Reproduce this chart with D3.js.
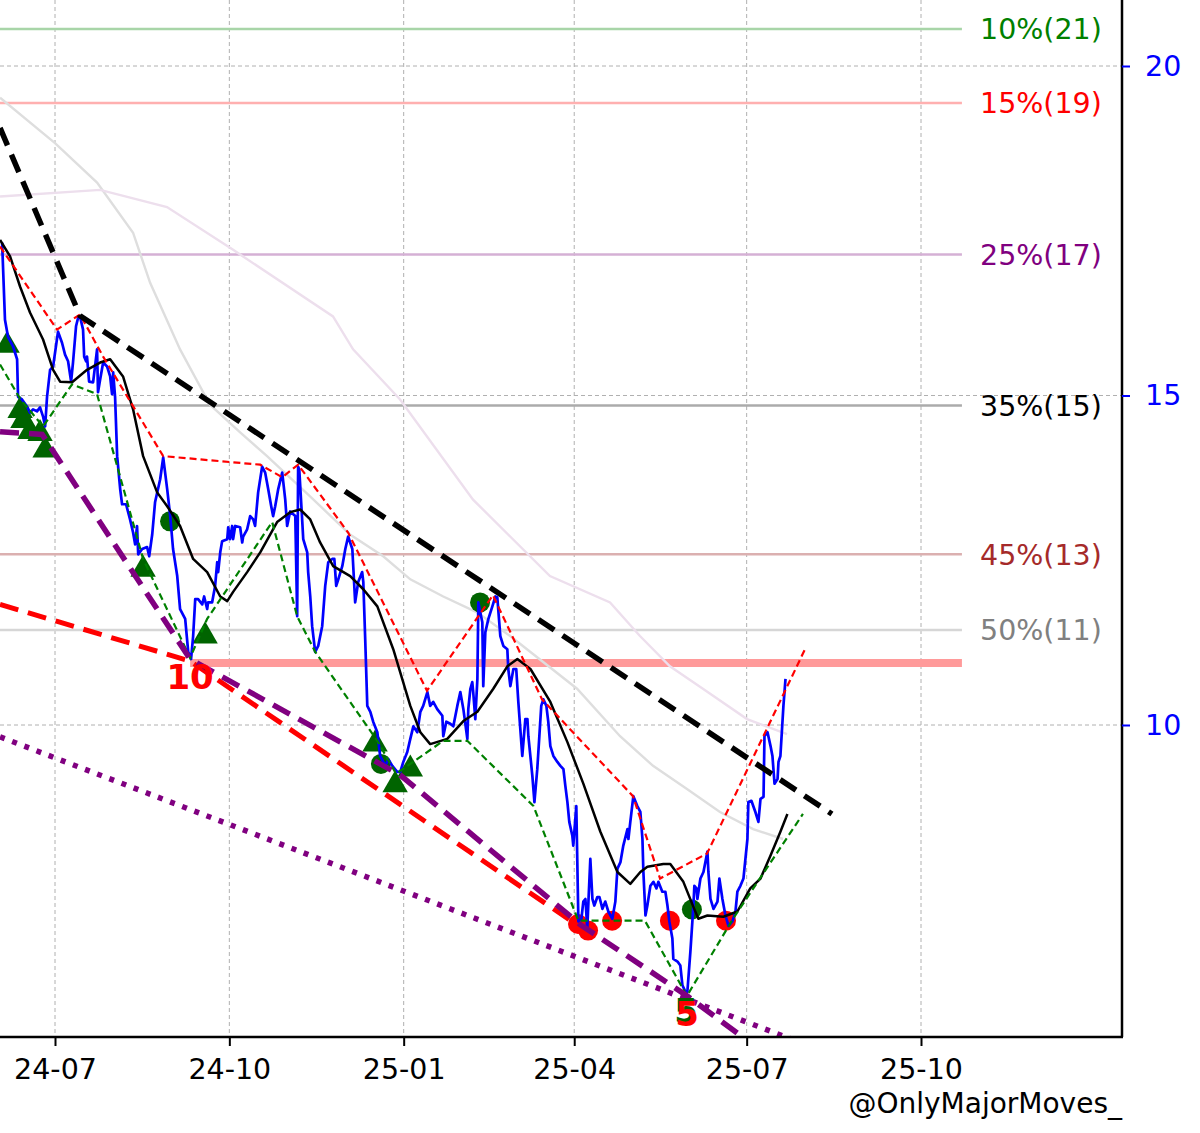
<!DOCTYPE html>
<html><head><meta charset="utf-8">
<script src="https://cdn.jsdelivr.net/npm/d3@7"></script>
<style>body{margin:0;background:#fff}svg{display:block}text{font-family:"DejaVu Sans",sans-serif}</style>
</head><body><svg id="c" width="1200" height="1133"></svg>
<script>
// All series: [days since 2024-06-01, value]
const baseDate = Date.UTC(2024, 5, 1);
const xTickDates = ["2024-07-01","2024-10-01","2025-01-01","2025-04-01","2025-07-01","2025-10-01"];
const yTicks = [10, 15, 20];

const price = [[2.1,17.32],[3.6,16.15],[5.2,15.89],[7.9,15.74],[10.0,15.55],[10.5,14.98],[12.6,14.94],[15.3,14.83],[16.8,14.74],[18.4,14.79],[20.5,14.76],[22.1,14.82],[23.7,14.68],[24.8,14.53],[25.8,14.98],[27.4,15.39],[29.0,15.44],[31.6,15.97],[33.7,15.80],[35.3,15.62],[36.9,15.52],[38.5,15.21],[39.5,15.50],[41.1,16.05],[42.2,16.18],[43.2,16.20],[44.8,16.00],[45.4,15.59],[46.4,15.52],[46.9,15.59],[48.0,15.21],[50.1,15.20],[52.2,15.70],[52.7,15.05],[53.8,15.24],[55.4,15.50],[57.5,15.44],[59.1,15.29],[60.1,15.02],[60.7,15.35],[61.7,14.98],[62.8,14.08],[64.4,13.58],[65.4,13.35],[67.5,13.35],[69.6,13.12],[71.2,12.92],[72.3,12.74],[73.3,13.02],[73.9,12.59],[76.0,12.67],[78.6,12.70],[79.7,12.56],[81.3,12.89],[82.8,13.38],[85.5,13.73],[87.1,14.06],[89.2,13.58],[90.8,13.17],[92.3,12.67],[94.5,12.26],[96.0,11.76],[98.7,11.61],[100.3,11.11],[101.8,11.00],[102.9,11.35],[104.0,11.91],[105.5,11.91],[107.7,11.83],[108.7,11.95],[110.3,11.76],[110.8,11.86],[112.9,11.86],[114.5,12.11],[115.6,12.47],[116.1,12.32],[117.2,12.62],[118.2,12.79],[120.9,12.82],[121.4,13.00],[122.4,12.82],[123.5,13.02],[124.0,12.82],[125.1,13.02],[127.7,13.00],[128.8,12.77],[129.3,12.86],[131.4,12.97],[133.0,13.17],[134.6,13.12],[135.6,13.02],[137.2,13.53],[139.3,13.92],[140.9,13.83],[142.5,13.58],[144.1,13.32],[145.1,13.17],[146.2,13.32],[147.8,13.58],[149.9,13.83],[151.5,13.42],[152.5,13.02],[154.1,13.24],[156.8,13.17],[157.8,11.65],[158.3,13.92],[158.9,13.88],[160.5,13.08],[161.0,12.82],[163.1,12.62],[163.6,12.32],[164.7,11.95],[165.7,11.50],[167.3,11.11],[168.9,11.20],[171.0,11.50],[172.6,12.11],[174.2,12.47],[176.3,12.52],[177.4,12.52],[178.4,12.11],[179.5,12.21],[181.6,12.41],[183.2,12.67],[184.7,12.86],[186.9,12.67],[188.4,11.86],[190.0,12.17],[192.1,12.32],[192.7,12.17],[193.7,11.30],[194.8,10.29],[196.4,10.20],[197.9,10.05],[200.1,9.89],[201.6,9.53],[204.3,9.38],[205.9,9.48],[208.0,9.38],[210.6,9.29],[212.2,9.29],[213.8,9.44],[215.9,9.59],[217.5,9.79],[219.1,9.98],[221.2,9.89],[222.8,10.20],[224.3,10.29],[226.5,10.50],[228.0,10.29],[229.6,10.35],[231.7,10.24],[234.4,10.14],[234.9,9.83],[236.5,10.05],[238.6,10.02],[240.2,9.98],[242.3,10.29],[243.9,10.50],[245.5,10.24],[247.6,9.79],[248.1,10.24],[249.2,10.55],[250.2,10.65],[250.7,10.50],[251.8,10.09],[252.9,10.70],[253.4,11.86],[255.5,11.56],[256.0,10.59],[257.1,11.41],[258.7,11.61],[260.8,11.80],[262.4,11.95],[263.4,11.94],[265.0,11.35],[266.6,11.20],[268.7,11.15],[269.2,10.85],[270.3,10.59],[271.9,10.85],[273.4,10.85],[274.5,10.35],[276.6,9.53],[278.2,10.09],[279.3,10.09],[279.8,9.83],[281.9,9.23],[283.0,8.83],[284.5,9.33],[285.6,9.83],[286.6,10.29],[287.7,10.39],[289.3,10.29],[290.3,10.05],[291.4,9.68],[293.0,9.53],[295.1,9.44],[296.7,9.38],[298.3,9.33],[299.3,9.08],[300.4,8.83],[301.4,8.53],[303.0,8.32],[303.5,8.17],[305.1,8.77],[306.2,7.02],[307.8,7.06],[308.8,7.32],[309.9,7.36],[310.9,6.91],[311.5,7.32],[312.5,7.97],[313.6,7.36],[314.6,7.26],[316.2,7.39],[317.3,7.39],[318.9,7.21],[320.4,7.32],[322.0,7.17],[324.1,7.06],[325.7,7.32],[326.8,7.82],[328.4,7.92],[329.9,8.17],[332.1,8.42],[332.6,8.27],[333.6,8.53],[335.2,8.92],[337.3,8.77],[338.9,8.68],[340.0,8.27],[340.5,7.77],[341.6,7.11],[342.6,7.26],[344.2,7.56],[345.8,7.62],[347.4,7.52],[348.4,7.62],[350.5,7.47],[352.1,7.47],[353.2,7.26],[354.2,7.02],[355.8,6.76],[356.3,6.45],[358.5,6.41],[360.0,6.35],[361.1,6.05],[362.7,5.95],[363.7,5.95],[365.3,6.56],[366.9,7.26],[367.4,7.56],[368.5,7.52],[369.0,7.36],[370.6,7.67],[372.2,7.77],[374.3,8.08],[374.8,7.77],[375.9,7.36],[377.5,7.21],[379.6,7.32],[380.6,7.67],[382.2,7.36],[383.8,7.11],[385.4,6.95],[387.5,7.02],[389.1,7.17],[390.1,7.47],[391.7,7.56],[393.3,7.67],[395.4,8.27],[395.9,8.83],[397.5,8.85],[399.6,8.68],[401.2,8.53],[402.3,8.88],[403.9,8.91],[404.4,9.83],[406.0,9.89],[407.6,9.68],[408.6,9.53],[409.7,9.11],[411.3,9.18],[411.8,9.44],[412.8,9.53],[414.4,10.29],[415.5,10.70]];

const movingAvg = [[1.0,17.36],[6.3,17.11],[11.6,16.65],[16.8,16.26],[23.7,15.85],[29.0,15.39],[32.7,15.21],[39.0,15.20],[46.9,15.39],[53.8,15.50],[59.1,15.55],[65.9,15.29],[71.2,14.79],[76.5,14.08],[83.9,13.53],[89.2,13.32],[96.0,13.02],[102.9,12.52],[110.3,12.32],[117.2,11.95],[120.9,11.88],[124.0,12.02],[131.4,12.32],[138.3,12.62],[147.2,13.08],[154.1,13.23],[159.4,13.27],[164.7,13.12],[169.9,12.77],[176.8,12.41],[185.8,12.26],[192.7,12.06],[200.1,11.80],[208.5,11.15],[217.5,10.29],[222.8,9.89],[228.0,9.71],[237.0,9.79],[245.5,10.06],[252.9,10.20],[261.3,10.55],[268.7,10.89],[274.0,11.00],[280.9,10.85],[291.4,10.35],[300.4,9.74],[308.8,9.11],[317.8,8.38],[326.8,7.77],[333.6,7.59],[338.9,7.77],[342.6,7.85],[351.0,7.89],[354.7,7.89],[361.6,7.62],[366.9,7.24],[369.5,7.06],[374.3,7.11],[382.7,7.09],[390.1,7.17],[396.9,7.52],[402.3,7.67],[407.6,8.02],[412.8,8.38],[416.5,8.65]];

const slowAvgGray = [[1.0,19.52],[30.0,18.83],[52.2,18.23],[71.2,17.47],[80.2,16.71],[96.0,15.70],[111.8,14.86],[127.7,14.44],[141.9,14.08],[164.6,13.47],[185.7,12.89],[203.2,12.56],[217.5,12.21],[234.9,11.95],[252.7,11.71],[270.2,11.35],[305.5,10.55],[328.2,9.83],[345.6,9.38],[363.5,9.03],[380.9,8.68],[398.4,8.42],[414.2,8.27]];
const slowAvgPurple = [[1.0,18.02],[53.8,18.12],[89.1,17.86],[124.0,17.21],[176.7,16.20],[187.3,15.70],[212.1,14.94],[250.6,13.42],[291.2,12.26],[322.9,11.86],[338.7,11.35],[354.5,10.89],[371.9,10.55],[395.2,10.09],[416.3,9.86]];

const highsPath = [[1.0,17.26],[31.1,16.00],[43.2,16.23],[55.4,15.59],[87.1,14.08],[138.3,13.95],[149.9,13.76],[158.3,13.95],[184.7,12.92],[226.3,10.52],[261.1,11.97],[287.0,10.39],[335.0,8.92],[349.3,7.67],[374.1,8.05],[425.8,11.15]];
const lowsPath = [[1.0,15.47],[11.6,14.95],[23.7,14.53],[39.0,15.17],[52.2,15.02],[76.5,12.52],[101.3,11.02],[110.3,11.61],[144.6,13.08],[157.8,11.65],[167.3,11.11],[200.1,9.76],[210.0,9.26],[217.5,9.41],[234.9,9.76],[247.6,9.76],[282.5,8.77],[306.2,7.03],[341.3,7.03],[363.5,5.89],[387.8,7.06],[424.7,8.65]];

const resistanceLine = [[1.0,19.06],[43.2,16.21],[440.0,8.65]];
const supportLine = [[1.0,14.45],[23.2,14.41],[101.3,11.00],[212.2,9.24],[307.3,6.97],[363.5,5.89],[401.1,5.09]];
const redTrendLine = [[1.0,11.83],[101.3,10.97],[312.4,6.83]];
const dottedChannel = [[1.0,9.82],[417.9,5.24]];

const buyTriangles = [[4.7,15.76],[11.6,14.77],[13.1,14.62],[16.8,14.45],[22.1,14.42],[24.8,14.17],[76.5,12.36],[109.2,11.35],[198.9,9.71],[209.5,9.09],[217.5,9.33]];
const greenDots = [[90.7,13.09],[202.0,9.41],[254.3,11.86],[366.1,7.20]];
const redDots = [[306.0,6.98],[311.3,6.88],[324.0,7.03],[354.5,7.03],[384.1,7.03]];

const lowLabels = [{day:101.3, value:11.00, text:"10"},{day:363.5, value:5.89, text:"5"}];
const keyLevelStart = 101.3, keyLevelValue = 10.94;

const levelLabels = ["10%(21)","15%(19)","25%(17)","35%(15)","45%(13)","50%(11)"];
const levelValues = [20.56,19.44,17.14,14.85,12.59,11.44];
const levelLineColors = ["#a8d5a8","#ffb0b0","#d5b0d5","#ababab","#dbb0b0","#d6d6d6"];
const levelTextColors = ["#008000","#ff0000","#800080","#000000","#a52a2a","#808080"];
const levelEndDay = 508.6;

// ---------- drawing ----------
const toDate = d => new Date(baseDate + d * 864e5);
const svg = d3.select("#c");
const W = 1122, H = 1037;
const FS = 28.5;
const x = d3.scaleUtc().domain([new Date("2024-07-01"), new Date("2025-10-01")]).range([55, 921]);
const y = d3.scaleLinear().domain([10, 20]).range([725, 66]);
const line = d3.line().x(p => x(toDate(p[0]))).y(p => y(p[1]));

svg.append("defs").append("clipPath").attr("id","clip").append("rect").attr("x",0).attr("y",0).attr("width",W).attr("height",H);
const g = svg.append("g").attr("clip-path","url(#clip)");

// grid
xTickDates.forEach(s => {
  const xx = x(new Date(s));
  g.append("line").attr("x1",xx).attr("x2",xx).attr("y1",0).attr("y2",H)
    .attr("stroke","#b0b0b0").attr("stroke-width",1).attr("stroke-dasharray","4,3");
});
yTicks.forEach(v => {
  g.append("line").attr("x1",0).attr("x2",W).attr("y1",y(v)).attr("y2",y(v))
    .attr("stroke","#b0b0b0").attr("stroke-width",1).attr("stroke-dasharray","4,3");
});

// levels
levelValues.forEach((v,i) => {
  g.append("line").attr("x1",x(toDate(0))).attr("x2",x(toDate(levelEndDay)))
    .attr("y1",y(v)).attr("y2",y(v)).attr("stroke",levelLineColors[i]).attr("stroke-width",2.5);
  g.append("text").attr("x",980).attr("y",y(v)).attr("dy","0.36em")
    .attr("font-size",FS).attr("fill",levelTextColors[i]).text(levelLabels[i]);
});
g.append("line").attr("x1",x(toDate(keyLevelStart))).attr("x2",x(toDate(levelEndDay)))
  .attr("y1",y(keyLevelValue)).attr("y2",y(keyLevelValue))
  .attr("stroke","#ff9a9a").attr("stroke-width",8);

// faint long averages
g.append("path").attr("d",line(slowAvgGray)).attr("fill","none").attr("stroke","#dedede").attr("stroke-width",2.4);
g.append("path").attr("d",line(slowAvgPurple)).attr("fill","none").attr("stroke","#eddfed").attr("stroke-width",2.4);

// markers
const tri = d3.symbol().type(d3.symbolTriangle).size(280);
g.selectAll(".tri").data(buyTriangles).enter().append("path")
  .attr("d",tri).attr("transform",p=>`translate(${x(toDate(p[0]))},${y(p[1])})`).attr("fill","#006400");
g.selectAll(".gd").data(greenDots).enter().append("circle")
  .attr("cx",p=>x(toDate(p[0]))).attr("cy",p=>y(p[1])).attr("r",10).attr("fill","#006400");
g.selectAll(".rd").data(redDots).enter().append("circle")
  .attr("cx",p=>x(toDate(p[0]))).attr("cy",p=>y(p[1])).attr("r",10).attr("fill","#ff0000");

// price and MA
g.append("path").attr("d",line(price)).attr("fill","none").attr("stroke","#0000ff").attr("stroke-width",2.7).attr("stroke-linejoin","round");
g.append("path").attr("d",line(movingAvg)).attr("fill","none").attr("stroke","#000").attr("stroke-width",2.5).attr("stroke-linejoin","round");

// envelopes
g.append("path").attr("d",line(highsPath)).attr("fill","none").attr("stroke","#ff0000").attr("stroke-width",2.2).attr("stroke-dasharray","7,4");
g.append("path").attr("d",line(lowsPath)).attr("fill","none").attr("stroke","#008000").attr("stroke-width",2.2).attr("stroke-dasharray","7,4");

// trend lines
g.append("path").attr("d",line(dottedChannel)).attr("fill","none").attr("stroke","#800080").attr("stroke-width",5.5).attr("stroke-dasharray","5,8");
g.append("path").attr("d",line(redTrendLine)).attr("fill","none").attr("stroke","#ff0000").attr("stroke-width",5).attr("stroke-dasharray","19,10");
g.append("path").attr("d",line(supportLine)).attr("fill","none").attr("stroke","#800080").attr("stroke-width",5.5).attr("stroke-dasharray","19,10");
g.append("path").attr("d",line(resistanceLine)).attr("fill","none").attr("stroke","#000").attr("stroke-width",5.5).attr("stroke-dasharray","19,10");

// low labels (the "5" has a green copy drawn just behind it, as in the original)
lowLabels.forEach((l,i) => {
  const px = x(toDate(l.day)), py = y(l.value) + 30;
  if (i === 1) g.append("text").attr("x",px-1).attr("y",py-3).attr("text-anchor","middle")
    .attr("font-size",34).attr("font-weight","bold").attr("fill","#006400").text(l.text);
  g.append("text").attr("x",px).attr("y",py).attr("text-anchor","middle")
    .attr("font-size",34).attr("font-weight","bold").attr("fill","#ff0000").text(l.text);
});

// spines
svg.append("line").attr("x1",0).attr("x2",W+1).attr("y1",H).attr("y2",H).attr("stroke","#000").attr("stroke-width",2.5);
svg.append("line").attr("x1",W).attr("x2",W).attr("y1",0).attr("y2",H).attr("stroke","#000").attr("stroke-width",2.5);

// x axis
const xa = svg.append("g").attr("transform",`translate(0,${H})`)
  .call(d3.axisBottom(x).tickValues(xTickDates.map(s=>new Date(s))).tickFormat(d3.utcFormat("%y-%m")).tickSize(9).tickPadding(13));
xa.select(".domain").remove();
xa.selectAll("line").attr("stroke","#000").attr("stroke-width",2);
xa.selectAll("text").attr("font-size",FS).attr("fill","#000").attr("font-family","DejaVu Sans");

// y axis (right)
const ya = svg.append("g").attr("transform",`translate(${W},0)`)
  .call(d3.axisRight(y).tickValues(yTicks).tickSize(8).tickPadding(15));
ya.select(".domain").remove();
ya.selectAll("line").attr("stroke","#0000ff").attr("stroke-width",2);
ya.selectAll("text").attr("font-size",FS).attr("fill","#0000ff").attr("font-family","DejaVu Sans");

// watermark
svg.append("text").attr("x",W).attr("y",1113).attr("text-anchor","end").attr("font-size",28).attr("fill","#000").text("@OnlyMajorMoves_");
</script></body></html>
